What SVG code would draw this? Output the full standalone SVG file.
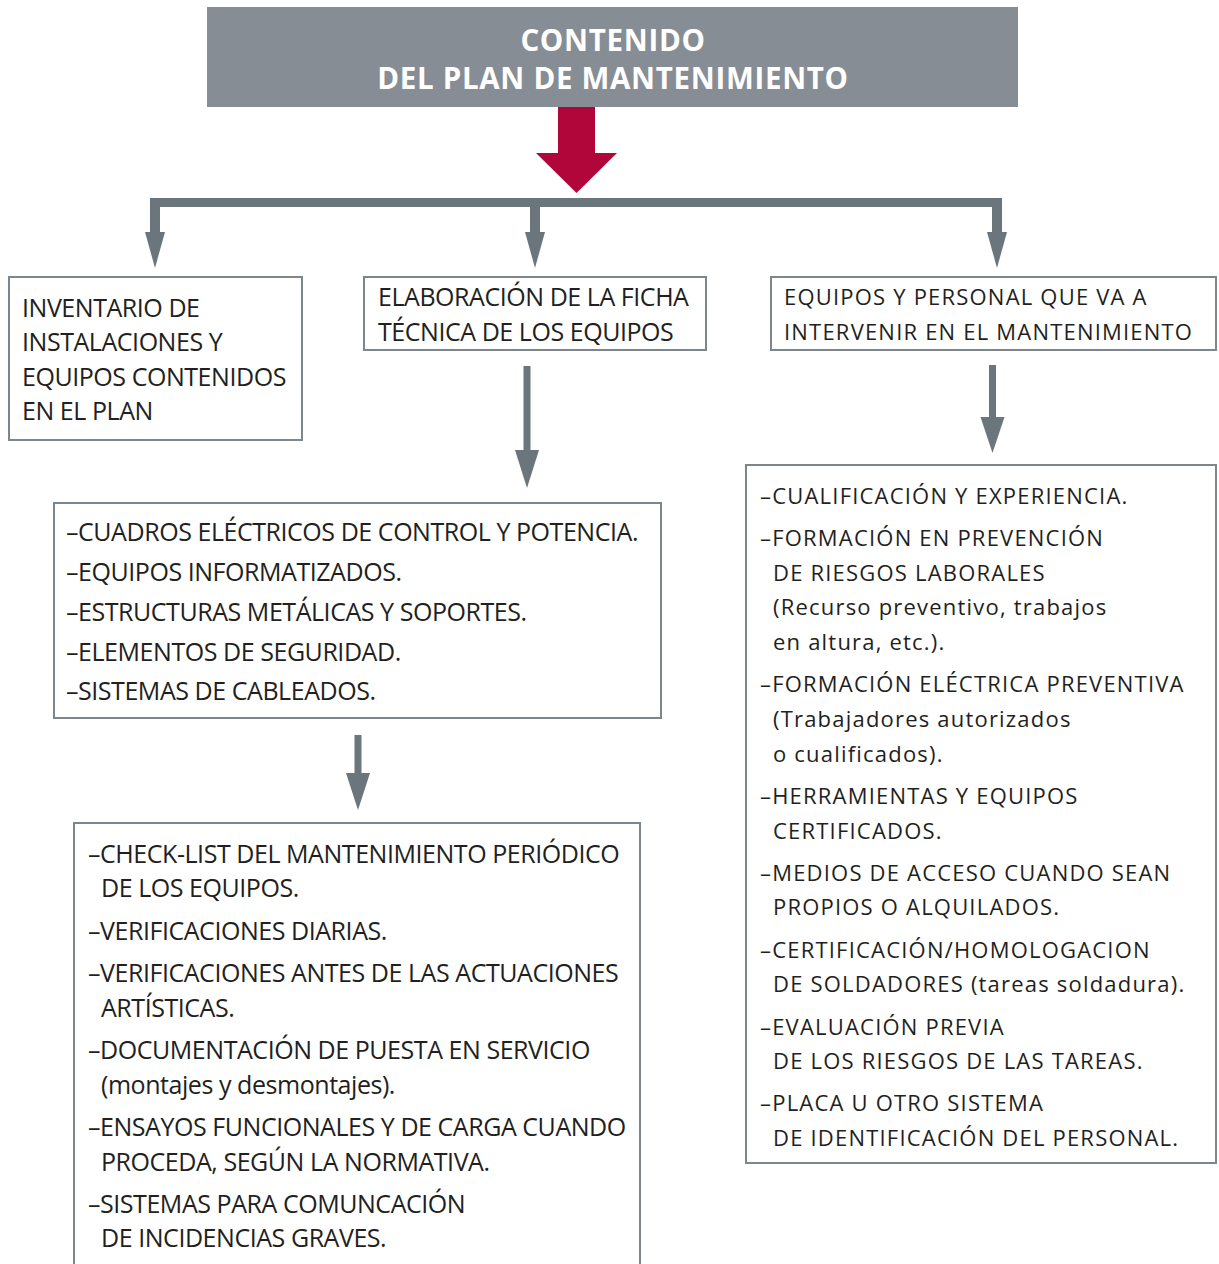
<svg xmlns="http://www.w3.org/2000/svg" width="1219" height="1264" viewBox="0 0 1219 1264">
<style>
.box{fill:#ffffff;stroke:#7d868c;stroke-width:2}
.hdr{fill:#878d94}
.ht{font-family:"Open Sans","Noto Sans",sans-serif;font-weight:700;font-size:29.5px;fill:#ffffff;text-anchor:middle;letter-spacing:0.7px}
.c{font-family:"Open Sans","Noto Sans",sans-serif;font-size:25px;fill:#231f20;letter-spacing:-0.45px}
.w{font-family:"Open Sans","Noto Sans",sans-serif;font-size:22px;fill:#231f20;letter-spacing:1.2px}
.ar{fill:#6b757c}
</style>
<rect width="1219" height="1264" fill="#ffffff"/>
<g id="connectors">
  <rect x="558" y="107" width="37" height="47" fill="#b0063a"/>
  <polygon points="536,153 617,153 576.5,193" fill="#b0063a"/>
  <rect class="ar" x="150" y="198" width="852" height="9"/>
  <rect class="ar" x="150" y="198" width="10" height="36"/>
  <polygon class="ar" points="145,232 165,232 155,268"/>
  <rect class="ar" x="530" y="198" width="10" height="36"/>
  <polygon class="ar" points="525,232 545,232 535,268"/>
  <rect class="ar" x="992" y="198" width="10" height="36"/>
  <polygon class="ar" points="987,232 1007,232 997,268"/>
  <rect class="ar" x="523.5" y="366" width="7" height="86"/>
  <polygon class="ar" points="515,450 539,450 527,488"/>
  <rect class="ar" x="989" y="365" width="7" height="54"/>
  <polygon class="ar" points="980.5,417 1004.5,417 992.5,453"/>
  <rect class="ar" x="354.5" y="735" width="7" height="40"/>
  <polygon class="ar" points="346,773 370,773 358,810"/>
</g>
<g id="header">
  <rect class="hdr" x="207" y="7" width="811" height="100"/>
  <text class="ht" x="613" y="51">CONTENIDO</text>
  <text class="ht" x="613" y="89">DEL PLAN DE MANTENIMIENTO</text>
</g>
<g id="inventario">
  <rect class="box" x="9" y="277" width="293" height="163"/>
  <text class="c" x="22" y="317">INVENTARIO DE</text>
  <text class="c" x="22" y="351">INSTALACIONES Y</text>
  <text class="c" x="22" y="386">EQUIPOS CONTENIDOS</text>
  <text class="c" x="22" y="420">EN EL PLAN</text>
</g>
<g id="ficha">
  <rect class="box" x="364" y="277" width="342" height="73"/>
  <text class="c" x="378" y="306">ELABORACIÓN DE LA FICHA</text>
  <text class="c" x="378" y="341">TÉCNICA DE LOS EQUIPOS</text>
</g>
<g id="personal">
  <rect class="box" x="771" y="277" width="445" height="73"/>
  <text class="w" x="784" y="305">EQUIPOS Y PERSONAL QUE VA A</text>
  <text class="w" x="784" y="340">INTERVENIR EN EL MANTENIMIENTO</text>
</g>
<g id="equipos-lista">
  <rect class="box" x="54" y="503" width="607" height="215"/>
  <text class="c" x="66" y="541">–CUADROS ELÉCTRICOS DE CONTROL Y POTENCIA.</text>
  <text class="c" x="66" y="581">–EQUIPOS INFORMATIZADOS.</text>
  <text class="c" x="66" y="621">–ESTRUCTURAS METÁLICAS Y SOPORTES.</text>
  <text class="c" x="66" y="661">–ELEMENTOS DE SEGURIDAD.</text>
  <text class="c" x="66" y="700">–SISTEMAS DE CABLEADOS.</text>
</g>
<g id="mantenimiento-lista">
  <rect class="box" x="74" y="823" width="566" height="460"/>
  <text class="c" x="88" y="863">–CHECK-LIST DEL MANTENIMIENTO PERIÓDICO</text>
  <text class="c" x="101" y="897">DE LOS EQUIPOS.</text>
  <text class="c" x="88" y="940">–VERIFICACIONES DIARIAS.</text>
  <text class="c" x="88" y="982">–VERIFICACIONES ANTES DE LAS ACTUACIONES</text>
  <text class="c" x="101" y="1017">ARTÍSTICAS.</text>
  <text class="c" x="88" y="1059">–DOCUMENTACIÓN DE PUESTA EN SERVICIO</text>
  <text class="c" x="101" y="1094">(montajes y desmontajes).</text>
  <text class="c" x="88" y="1136">–ENSAYOS FUNCIONALES Y DE CARGA CUANDO</text>
  <text class="c" x="101" y="1171">PROCEDA, SEGÚN LA NORMATIVA.</text>
  <text class="c" x="88" y="1213">–SISTEMAS PARA COMUNCACIÓN</text>
  <text class="c" x="101" y="1247">DE INCIDENCIAS GRAVES.</text>
</g>
<g id="personal-lista">
  <rect class="box" x="746" y="465" width="470" height="698"/>
  <text class="w" x="760" y="504">–CUALIFICACIÓN Y EXPERIENCIA.</text>
  <text class="w" x="760" y="546">–FORMACIÓN EN PREVENCIÓN</text>
  <text class="w" x="773" y="581">DE RIESGOS LABORALES</text>
  <text class="w" x="773" y="615">(Recurso preventivo, trabajos</text>
  <text class="w" x="773" y="650">en altura, etc.).</text>
  <text class="w" x="760" y="692">–FORMACIÓN ELÉCTRICA PREVENTIVA</text>
  <text class="w" x="773" y="727">(Trabajadores autorizados</text>
  <text class="w" x="773" y="762">o cualificados).</text>
  <text class="w" x="760" y="804">–HERRAMIENTAS Y EQUIPOS</text>
  <text class="w" x="773" y="839">CERTIFICADOS.</text>
  <text class="w" x="760" y="881">–MEDIOS DE ACCESO CUANDO SEAN</text>
  <text class="w" x="773" y="915">PROPIOS O ALQUILADOS.</text>
  <text class="w" x="760" y="958">–CERTIFICACIÓN/HOMOLOGACION</text>
  <text class="w" x="773" y="992">DE SOLDADORES (tareas soldadura).</text>
  <text class="w" x="760" y="1035">–EVALUACIÓN PREVIA</text>
  <text class="w" x="773" y="1069">DE LOS RIESGOS DE LAS TAREAS.</text>
  <text class="w" x="760" y="1111">–PLACA U OTRO SISTEMA</text>
  <text class="w" x="773" y="1146">DE IDENTIFICACIÓN DEL PERSONAL.</text>
</g>
</svg>
